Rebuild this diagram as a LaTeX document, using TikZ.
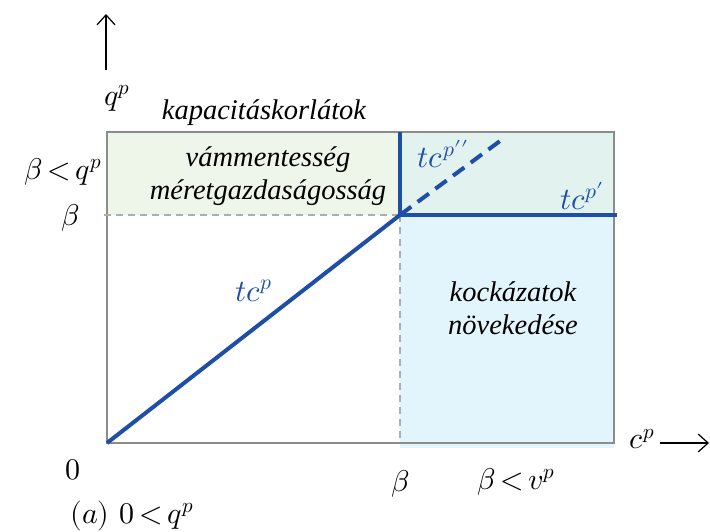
\documentclass[tikz,border=0pt]{standalone}
\usepackage{fontspec}
\usepackage{unicode-math}
\setmainfont{Liberation Serif}
\setmathfont{Latin Modern Math}
\usetikzlibrary{arrows.meta}
\definecolor{greenfill}{HTML}{EEF5E9}
\definecolor{tealfill}{HTML}{E2F2EE}
\definecolor{bluefill}{HTML}{E3F5FC}
\definecolor{curve}{HTML}{1F4EA8}
\definecolor{frame}{HTML}{8C8C8C}
\definecolor{guide}{HTML}{ADADAD}
\newcommand\mytightrel{\thickmuskip=3mu\relax}
\tikzset{
  lbl/.style={inner sep=0pt, font=\fontsize{30}{32}\selectfont\mytightrel},
  region/.style={font=\fontsize{28.5}{33}\selectfont\itshape, align=center, inner sep=0pt},
  curvelbl/.style={inner sep=0pt, text=curve, font=\fontsize{31}{34}\selectfont},
  tcline/.style={draw=curve, line width=4pt},
  guideline/.style={draw=guide, line width=1.6pt, dash pattern=on 7pt off 5pt},
  axisarrow/.style={draw=black, line width=1.2pt, -{Straight Barb[length=10pt,width=18pt]}}
}
\begin{document}
\begin{tikzpicture}[x=1pt,y=-1pt]
\useasboundingbox (0,0) rectangle (710,532);
% corners
\coordinate (O) at (107,443);
\coordinate (TL) at (107,132);
\coordinate (TR) at (614,132);
\coordinate (BR) at (614,443);
\coordinate (K) at (400,215);
\coordinate (Ktop) at (400,132);
\coordinate (Kbot) at (400,443);
\coordinate (Kleft) at (104,215);
\coordinate (Kright) at (617,215);
\coordinate (D) at (500,141);
% fills
\fill[greenfill] (107,132) rectangle (400,215);
\fill[tealfill] (400,132) rectangle (614,215);
\fill[bluefill] (400,215) rectangle (614,448);
% frame
\draw[frame, line width=1.5pt] (TL) rectangle (BR);
% guides
\draw[guideline] (Kleft) -- (K);
\draw[guideline] (K) -- (Kbot);
% curves
\draw[tcline] (O) -- (K);
\draw[tcline] (Ktop) -- (K);
\draw[tcline] (K) -- (Kright);
\draw[tcline, dash pattern=on 14pt off 8pt] (K) -- (D);
% axis arrows
\coordinate (ya) at (106,70);
\coordinate (yb) at (106,14);
\draw[axisarrow] (ya) -- (yb);
\coordinate (xa) at (660,443);
\coordinate (xb) at (709,443);
\draw[axisarrow] (xa) -- (xb);
% labels
\node[lbl] (qp) at (117,98) {$q^p$};
\node[region] (kap) at (264,113) {kapacitáskorlátok};
\node[region] (vam) at (268,176) {vámmentesség\\méretgazdaságosság};
\node[region] (koc) at (513,308) {kockázatok\\növekedése};
\node[lbl] (bq) at (63,172) {$\beta < q^p$};
\node[lbl] (b1) at (71,218) {$\beta$};
\node[lbl] (zero) at (73,470) {$0$};
\node[lbl] (b2) at (401,484) {$\beta$};
\node[lbl] (bv) at (516,482) {$\beta < v^p$};
\node[lbl] (cap) at (132,516) {$(a)\;\; 0 < q^p$};
\node[lbl] (cp) at (642,439) {$c^p$};
\node[curvelbl] (tc) at (254,291) {$tc^p$};
\node[curvelbl] (tc1) at (582,196) {$tc^{p\prime}$};
\node[curvelbl] (tc2) at (443,154) {$tc^{p\prime\prime}$};
\end{tikzpicture}
\end{document}
